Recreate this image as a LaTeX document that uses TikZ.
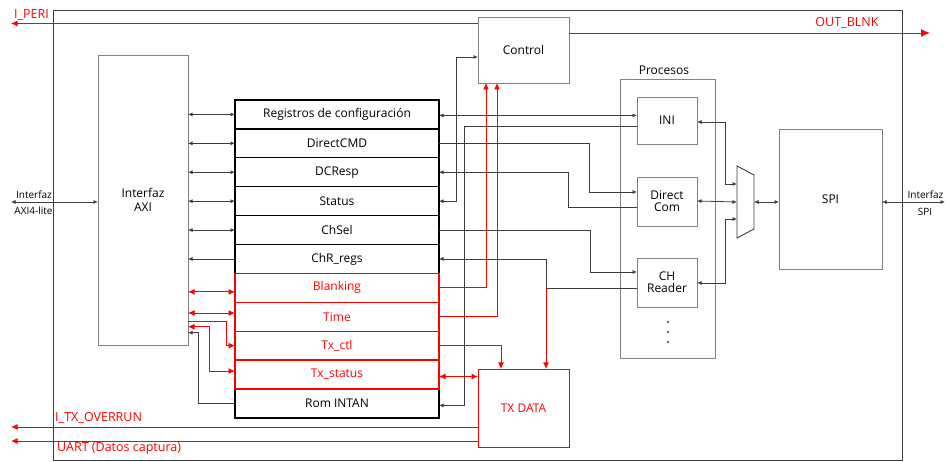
\documentclass[tikz,border=0pt]{standalone}
\usepackage{fontspec}
\setmainfont{Open Sans}
\usetikzlibrary{arrows.meta,calc}
\definecolor{linegray}{RGB}{60,60,60}
\definecolor{boxgray}{RGB}{130,130,130}
\definecolor{pured}{RGB}{255,0,0}
\tikzset{
  ln/.style={draw=linegray, line width=0.8pt},
  rl/.style={draw=pured, line width=0.9pt},
  barr/.style={ln, -{Latex[length=4.5pt,width=4pt]}},
  bdbl/.style={ln, {Latex[length=4.5pt,width=4pt]}-{Latex[length=4.5pt,width=4pt]}},
  bstart/.style={ln, {Latex[length=4.5pt,width=4pt]}-},
  rarr/.style={rl, -{Latex[length=6.5pt,width=6pt]}},
  rdbl/.style={rl, {Latex[length=6.5pt,width=6pt]}-{Latex[length=6.5pt,width=6pt]}},
  box/.style={draw=boxgray, line width=0.9pt, rectangle, inner sep=0pt, outer sep=0pt, align=center, font=\fontsize{12}{14}\selectfont},
  redbox/.style={box, draw=pured, text=pured},
  regrow/.style={draw=black, line width=1.3pt, rectangle, inner sep=0pt, outer sep=0pt, minimum width=204pt, minimum height=28.9pt, font=\fontsize{12}{14}\selectfont},
  redrow/.style={regrow, draw=pured, text=pured},
  lbl/.style={inner sep=0pt, font=\fontsize{12}{14}\selectfont},
  rlbl/.style={lbl, text=pured, font=\fontsize{12.5}{14}\selectfont},
  small/.style={inner sep=0pt, font=\fontsize{10}{12}\selectfont},
}
\begin{document}
\begin{tikzpicture}[x=1pt,y=-1pt]
\useasboundingbox (0,0) rectangle (946,462);
% outer frame
\node[draw=linegray, line width=1pt, rectangle, inner sep=0pt, minimum width=849pt, minimum height=450.5pt] (outer) at (477.5,235.75) {};
% boxes
\node[box, minimum width=90pt, minimum height=290pt] (axi) at (143,200) {Interfaz\\AXI};
\node[box, minimum width=91pt, minimum height=66pt] (ctrl) at (523.5,50) {Control};
\node[redbox, minimum width=91pt, minimum height=78pt] (txd) at (523.5,408) {TX DATA};
\node[box, minimum width=95pt, minimum height=279pt] (proc) at (667.5,218.5) {};
\node[lbl] (proclbl) at (664,70) {Procesos};
\node[box, minimum width=60pt, minimum height=47pt] (ini) at (667,120.5) {INI};
\node[box, minimum width=60pt, minimum height=49pt] (dc) at (667,201.5) {Direct\\[-2pt]Com};
\node[box, minimum width=60pt, minimum height=49pt] (chr) at (667,282.5) {CH\\[-2pt]Reader};
\node[box, minimum width=103pt, minimum height=140pt] (spi) at (830.5,199) {SPI};
% dots
\foreach \yy in {322,332,342} \fill[linegray] (668,\yy) circle (1.1pt);
% mux
\draw[linegray, line width=0.9pt] (737,166) -- (754,175) -- (754,229) -- (737,238) -- cycle;
\coordinate (m1) at (737,184);
\coordinate (m2) at (737,202);
\coordinate (m3) at (737,219);
\coordinate (mo) at (754,202);
% register stack
\node[regrow] (reg0) at (337,114.45) {Registros de configuración};
\node[regrow] (reg1) at (337,143.35) {DirectCMD};
\node[regrow] (reg2) at (337,172.25) {DCResp};
\node[regrow] (reg3) at (337,201.15) {Status};
\node[regrow] (reg4) at (337,230.05) {ChSel};
\node[regrow] (reg5) at (337,258.95) {ChR\_regs};
\node[regrow] (reg10) at (337,403.45) {Rom INTAN};
\node[redrow] (reg6) at (337,287.85) {Blanking};
\node[redrow] (reg7) at (337,316.75) {Time};
\node[redrow] (reg8) at (337,345.65) {Tx\_ctl};
\node[redrow] (reg9) at (337,374.55) {Tx\_status};
% AXI <-> registers
\foreach \r in {reg0,reg1,reg2,reg3,reg4}
  \draw[bdbl] (axi.east |- \r.west) -- (\r.west);
\draw[barr] (reg5.west) -- (axi.east |- reg5.west);
\draw[rdbl] ([yshift=-4pt]axi.east |- reg6.west) -- ([yshift=-4pt]reg6.west);
\draw[rdbl] ([yshift=3.75pt]axi.east |- reg7.west) -- ([yshift=3.75pt]reg7.west);
\draw[rarr] ([yshift=-5pt]axi.east |- reg7.west) -- ++(38,0) |- (reg8.west);
\draw[rdbl] ([yshift=-10pt]axi.east |- reg7.west) -- ++(21,0) |- ([yshift=3.5pt]reg9.west);
\draw[barr] (reg10.west) -- ++(-37,0) |- ([yshift=-16pt]axi.east |- reg7.west);
% right side of registers
\draw[bdbl] ([yshift=-1pt]reg0.east) -- ([yshift=-1pt]reg0.east -| ini.west);
\draw[barr] ([yshift=-5.5pt]ini.west) -- ++(-173,0) |- ([yshift=-2pt]reg10.east);
\draw[bdbl] (reg3.east) -- ++(17,0) |- ([yshift=-7pt]ctrl.west);
\draw[barr] (reg1.east) -- ++(150,0) |- ([yshift=9.5pt]dc.west);
\draw[bstart] (reg2.east) -- ++(129,0) |- ([yshift=-5.5pt]dc.west);
\draw[barr] (reg4.east) -- ++(151,0) |- ([yshift=10.5pt]chr.west);
\coordinate (split) at (546,288);
\draw[bstart] (reg5.east) -| (split) -- (split -| chr.west);
\draw[rarr] (split) -- (split |- txd.north);
\draw[rarr] (reg6.east) -| ([xshift=-37.5pt]ctrl.south);
\draw[rarr] (reg7.east) -| ([xshift=-26.5pt]ctrl.south);
\draw[rarr] (reg8.east) -| ([xshift=-22.5pt]txd.north);
\draw[rdbl] ([yshift=-2pt]reg9.east) -- ([yshift=-2pt]reg9.east -| txd.west);
% TX DATA outputs
\draw[rarr] ([yshift=-19pt]txd.west) -- ++(-467,0) coordinate (ovr);
\draw[rarr] ([yshift=-33pt]txd.west) -- ++(-467,0) coordinate (uart);
\node[rlbl, anchor=west] (ovrlbl) at (55,418) {I\_TX\_OVERRUN};
\node[rlbl, anchor=west] (uartlbl) at (57,449) {UART (Datos captura)};
% Control outputs
\draw[rarr] ([yshift=26.5pt]ctrl.west) -- ++(-467,0) coordinate (peri);
\node[rlbl] (perilbl) at (31.5,15) {I\_PERI};
\draw[rl, -{Latex[length=9pt,width=8pt]}] ([yshift=17pt]ctrl.east) -- ++(361,0) coordinate (blnk);
\node[rlbl] (blnklbl) at (847,23) {OUT\_BLNK};
% AXI4-lite interface
\draw[bdbl] ([yshift=-2pt]axi.west) -- ++(-87,0) coordinate (axil);
\node[small] (axil1) at (34,194.5) {Interfaz};
\node[small] (axil2) at (33.5,211) {AXI4-lite};
% process -> mux
\draw[bdbl] ([yshift=-1.5pt]ini.east) -- ++(28,0) |- (m1);
\draw[bdbl] ([yshift=0.5pt]dc.east) -- (m2);
\draw[bdbl] ([yshift=-0.5pt]chr.east) -- ++(28,0) |- (m3);
\draw[bdbl] (mo) -- (mo -| spi.west);
% SPI interface
\draw[bdbl] ([yshift=-3pt]spi.east) -- ++(63,0) coordinate (spil);
\node[small] (spil1) at (925.5,195) {Interfaz};
\node[small] (spil2) at (925,211.5) {SPI};
\end{tikzpicture}
\end{document}
